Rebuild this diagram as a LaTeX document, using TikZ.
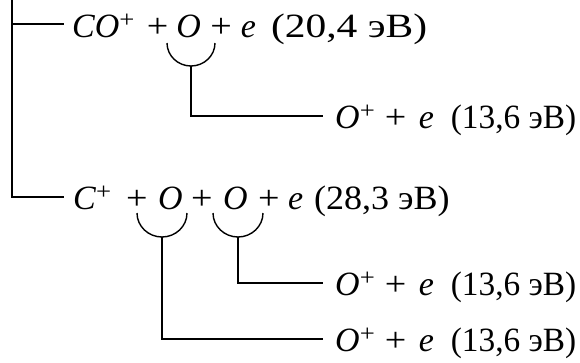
\documentclass[tikz,border=0pt]{standalone}
\usepackage{fontspec}
\usepackage{graphicx}
\setmainfont{Liberation Serif}
\newcommand\xit[1]{\textit{#1}}
\newcommand\xpl{\scalebox{1.12}[1]{+}}
\newcommand\xsup{\textsuperscript{\scalebox{1.12}[1]{+}}}
\begin{document}
\begin{tikzpicture}[x=1pt,y=-1pt,
  lbl/.style={anchor=base west,inner sep=0pt,font=\fontsize{34}{40}\selectfont},
  link/.style={line width=1.4pt}]
\useasboundingbox (0,0) rectangle (580,362);
% rows
\node[lbl] (r1) at (72,37) {\xit{CO}\xsup\hspace{12pt}\xpl\hspace{8pt}\xit{O}\hspace{9.5pt}\xpl\hspace{9pt}\xit{e}\hspace{15pt}\scalebox{1.22}[1]{(20,4 эВ)}};
\node[lbl] (r2) at (335,128) {\xit{O}\xsup\hspace{9.5pt}\xpl\hspace{12.5pt}\xit{e}\hspace{17pt}\scalebox{0.98}[1]{(13,6 эВ)}};
\node[lbl] (r3) at (73,209) {\xit{C}\xsup\hspace{14.3pt}\xpl\hspace{10.5pt}\xit{O}\hspace{8.5pt}\xpl\hspace{10.5pt}\xit{O}\hspace{10.5pt}\xpl\hspace{8.5pt}\xit{e}\hspace{11pt}\scalebox{1.06}[1]{(28,3 эВ)}};
\node[lbl] (r4) at (335,295) {\xit{O}\xsup\hspace{9.5pt}\xpl\hspace{12.5pt}\xit{e}\hspace{17pt}\scalebox{0.98}[1]{(13,6 эВ)}};
\node[lbl] (r5) at (335,351) {\xit{O}\xsup\hspace{9.5pt}\xpl\hspace{12.5pt}\xit{e}\hspace{17pt}\scalebox{0.98}[1]{(13,6 эВ)}};
% trunk
\coordinate (top) at (12,0);
\draw[link] (top) |- ([shift={(-8pt,13pt)}]r1.base west);
\draw[link] (top) |- ([shift={(-9pt,12pt)}]r3.base west);
% arc row 1
\coordinate (a1l) at (167,43);
\coordinate (a1b) at (191,66);
\coordinate (a1r) at (215,43);
\draw[link] (a1l) .. controls +(0,12.6) and +(-13.2,0) .. (a1b) .. controls +(13.2,0) and +(0,12.6) .. (a1r);
\draw[link] (a1b) |- ([shift={(-12pt,12pt)}]r2.base west);
% arcs row 3
\coordinate (a2l) at (137,213);
\coordinate (a2b) at (162,237);
\coordinate (a2r) at (187,213);
\draw[link] (a2l) .. controls +(0,13.2) and +(-13.7,0) .. (a2b) .. controls +(13.7,0) and +(0,13.2) .. (a2r);
\coordinate (a3l) at (213,213);
\coordinate (a3b) at (238,237);
\coordinate (a3r) at (263,213);
\draw[link] (a3l) .. controls +(0,13.2) and +(-13.7,0) .. (a3b) .. controls +(13.7,0) and +(0,13.2) .. (a3r);
\draw[link] (a3b) |- ([shift={(-12pt,12pt)}]r4.base west);
\draw[link] (a2b) |- ([shift={(-12pt,12pt)}]r5.base west);
\end{tikzpicture}
\end{document}
